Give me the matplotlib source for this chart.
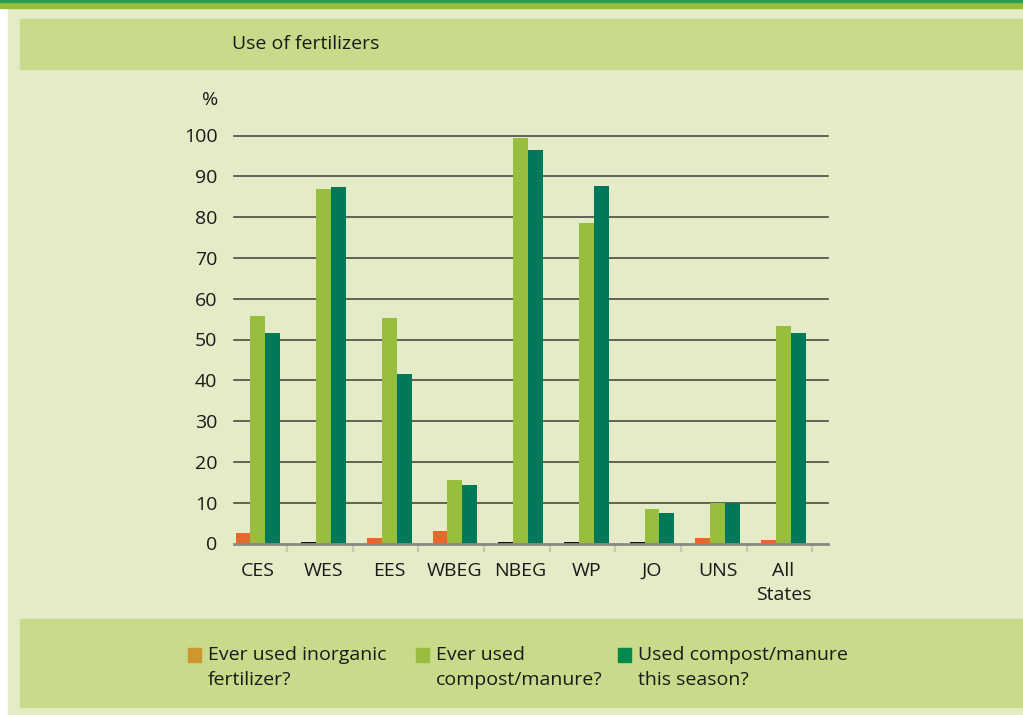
import numpy as np
import matplotlib.pyplot as plt
from matplotlib.patches import Rectangle

plt.rcParams['font.family'] = ['Open Sans', 'DejaVu Sans']

categories = ['CES', 'WES', 'EES', 'WBEG', 'NBEG', 'WP', 'JO', 'UNS', 'All\nStates']
inorganic = [2.5, 0, 1.3, 3.0, 0, 0, 0, 1.3, 0.8]
compost_ever = [55.8, 86.9, 55.3, 15.6, 99.4, 78.6, 8.5, 9.9, 53.3]
compost_season = [51.6, 87.4, 41.5, 14.3, 96.4, 87.6, 7.5, 9.9, 51.6]
series_names = ['Ever used inorganic\nfertilizer?', 'Ever used\ncompost/manure?',
                'Used compost/manure\nthis season?']
yticks = [0, 10, 20, 30, 40, 50, 60, 70, 80, 90, 100]

c_orange = '#e5692b'
c_light = '#97be3d'
c_dark = '#00785a'
legend_colors = ['#cd962e', c_light, '#008a4e']
bg = '#e3ecc7'
band = '#c9da8a'
txt = '#1a1a1a'
W, H = 1023, 715

fig = plt.figure(figsize=(10.23, 7.15), dpi=100)
fig.patch.set_facecolor('white')

# background panels
fig.add_artist(Rectangle((8/W, 0), 1, 1, transform=fig.transFigure, color=bg, zorder=-10))
fig.add_artist(Rectangle((0, 1 - 8/H), 1, 8/H, transform=fig.transFigure, color='#97bf3c', zorder=-9))
fig.add_artist(Rectangle((0, 1 - 2/H), 1, 2/H, transform=fig.transFigure, color='#2a9a55', zorder=-8))
fig.add_artist(Rectangle((20/W, 1 - 69/H), 1, 50/H, transform=fig.transFigure, color=band, zorder=-9))
fig.add_artist(Rectangle((20/W, 1 - 707/H), 1, 88/H, transform=fig.transFigure, color=band, zorder=-9))
fig.text(232/W, 1 - 44/H, 'Use of fertilizers', fontsize=14, color=txt, va='center', ha='left')

ax = fig.add_axes([234/W, 171.5/H, 594/W, 408/H])
ax.set_facecolor('none')

x = np.arange(len(categories))
w = 0.228
inorg_h = [v if v > 0 else 0.45 for v in inorganic]
inorg_c = [c_orange if v > 0 else '#111111' for v in inorganic]
ax.bar(x - w, inorg_h, w, color=inorg_c, zorder=3)
ax.bar(x, compost_ever, w, color=c_light, zorder=3)
ax.bar(x + w, compost_season, w, color=c_dark, zorder=3)

ax.set_xlim(-0.365, 8.68)
ax.set_ylim(0, 100)
for t in yticks[1:]:
    ax.axhline(t, color='#4a4a40', lw=1.2, zorder=1, clip_on=False)

for s in ['top', 'right', 'left']:
    ax.spines[s].set_visible(False)
ax.spines['bottom'].set_color('#8a8a80')
ax.spines['bottom'].set_linewidth(2)
ax.spines['bottom'].set_zorder(4)

ax.set_yticks(yticks)
ax.set_yticklabels([str(t) for t in yticks])
ax.tick_params(axis='y', length=0, pad=12, labelsize=14, labelcolor=txt)
ax.set_xticks(x)
ax.set_xticklabels(categories, linespacing=1.45)
ax.tick_params(axis='x', length=0, pad=13, labelsize=14, labelcolor=txt)
ax.set_xticks(x + 0.44, minor=True)
ax.tick_params(axis='x', which='minor', length=6, width=1.5, color='#c4c8b8')
ax.text(-0.365 - 16/65.7, 108.7, '%', fontsize=14, color=txt, ha='right', va='center',
        clip_on=False)

# legend: square + two-line label per series
leg_x = [188, 416, 618]
for lx, name, col in zip(leg_x, series_names, legend_colors):
    fig.add_artist(Rectangle((lx/W, 1 - 662/H), 13/W, 14/H, transform=fig.transFigure, color=col))
    fig.text((lx + 20)/W, 1 - 646/H, name, fontsize=14, color=txt, ha='left', va='top',
             linespacing=1.5)

fig.savefig('out.png', dpi=100, facecolor=fig.get_facecolor())
